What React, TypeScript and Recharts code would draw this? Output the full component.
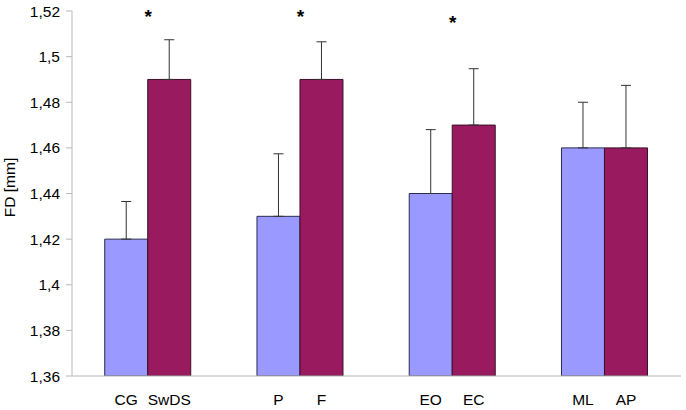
import React from "react";
import {
  BarChart,
  Bar,
  XAxis,
  YAxis,
  ErrorBar,
  LabelList,
  ReferenceDot,
} from "recharts";

const groups = ["G1", "G2", "G3", "G4"];
const labelsA = ["CG", "P", "EO", "ML"];
const labelsB = ["SwDS", "F", "EC", "AP"];
const valuesA = [1.42, 1.43, 1.44, 1.46];
const valuesB = [1.49, 1.49, 1.47, 1.46];
const errorsA = [0.0165, 0.0274, 0.028, 0.02];
const errorsB = [0.0174, 0.0165, 0.0247, 0.0274];
const significance = [1.519, 1.519, 1.5163, null];
const yTicks = [1.36, 1.38, 1.4, 1.42, 1.44, 1.46, 1.48, 1.5, 1.52];
const boundaryTicks = [0, 1, 2, 3, 4];
const yTitle = "FD [mm]";

const data = groups.map((g, i) => ({
  group: g,
  a: valuesA[i],
  b: valuesB[i],
  errA: [0, errorsA[i]],
  errB: [0, errorsB[i]],
  labelA: labelsA[i],
  labelB: labelsB[i],
}));

const FONT = "Arial, 'Liberation Sans', sans-serif";

const BottomLabel = (props: any) => {
  const { x, y, width, height, value } = props;
  return (
    <text
      x={x + width / 2}
      y={y + height + 29}
      textAnchor="middle"
      fontFamily={FONT}
      fontSize={15.5}
      fill="#000"
    >
      {value}
    </text>
  );
};

const Star = (props: any) => {
  const { cx, cy } = props;
  return (
    <text
      x={cx}
      y={cy + 10}
      textAnchor="middle"
      fontFamily={FONT}
      fontWeight="bold"
      fontSize={19}
      fill="#000"
    >
      *
    </text>
  );
};

const YTitle = (props: any) => {
  const { viewBox } = props;
  const cx = viewBox.x + 15;
  const cy = viewBox.y + viewBox.height / 2 - 6;
  return (
    <text
      x={cx}
      y={cy}
      transform={`rotate(-90 ${cx} ${cy})`}
      textAnchor="middle"
      fontFamily={FONT}
      fontSize={15.5}
      fill="#000"
    >
      {yTitle}
    </text>
  );
};

export default function App() {
  return (
    <div style={{ position: "absolute", left: 0, top: 0, background: "#fff" }}>
      <BarChart
        width={686}
        height={410}
        data={data}
        margin={{ top: 11, right: 5, bottom: 0, left: 0 }}
        barCategoryGap="21.5%"
        barGap={0}
      >
        <XAxis
          xAxisId="num"
          type="number"
          domain={[0, 4]}
          ticks={boundaryTicks}
          tick={false}
          tickSize={5}
          height={34}
          axisLine={{ stroke: "#b8b8b8" }}
          tickLine={{ stroke: "#b8b8b8" }}
          allowDataOverflow
        />
        <XAxis xAxisId="cat" dataKey="group" type="category" hide height={0} />
        <YAxis
          width={72}
          domain={[1.36, 1.52]}
          ticks={yTicks}
          interval={0}
          allowDataOverflow
          tickSize={6}
          tickMargin={6}
          axisLine={{ stroke: "#b8b8b8" }}
          tickLine={{ stroke: "#b8b8b8" }}
          tick={{ fill: "#000", fontFamily: FONT, fontSize: 15.5 }}
          tickFormatter={(v: number) => String(v).replace(".", ",")}
          label={<YTitle />}
        />
        <Bar
          xAxisId="cat"
          dataKey="a"
          fill="#9999FF"
          stroke="#2b2b50"
          strokeWidth={1}
          isAnimationActive={false}
        >
          <ErrorBar dataKey="errA" width={5} stroke="#333" strokeWidth={1} direction="y" />
          <LabelList dataKey="labelA" content={BottomLabel} />
        </Bar>
        <Bar
          xAxisId="cat"
          dataKey="b"
          fill="#991A5F"
          stroke="#3a1028"
          strokeWidth={1}
          isAnimationActive={false}
        >
          <ErrorBar dataKey="errB" width={5} stroke="#333" strokeWidth={1} direction="y" />
          <LabelList dataKey="labelB" content={BottomLabel} />
        </Bar>
        {groups.map((g, i) =>
          significance[i] != null ? (
            <ReferenceDot
              key={g}
              xAxisId="cat"
              x={g}
              y={significance[i] as number}
              r={0}
              shape={Star}
              ifOverflow="visible"
            />
          ) : null
        )}
      </BarChart>
    </div>
  );
}
